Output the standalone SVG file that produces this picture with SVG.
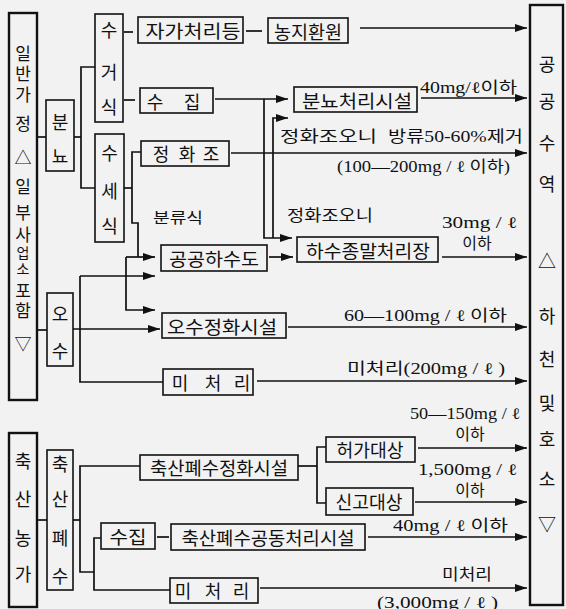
<svg xmlns="http://www.w3.org/2000/svg" width="566" height="609" viewBox="0 0 566 609">
<defs>
<style>
.box{fill:none;stroke:#111;stroke-width:1.6}
.bbox{fill:none;stroke:#111;stroke-width:2.4}
.lbl{font-family:"Noto Sans CJK KR","Noto Sans",sans-serif;font-size:18px;fill:#111;text-anchor:middle;dominant-baseline:central}
.col{font-size:17px}
.ann{font-family:"Liberation Serif","Noto Sans CJK KR",serif;font-size:16px;fill:#111;dominant-baseline:central}
.ln{fill:none;stroke:#111;stroke-width:1.7}
.ar{marker-end:url(#ah)}
</style>
<marker id="ah" viewBox="0 0 12 8" refX="12" refY="4" markerWidth="12" markerHeight="8" orient="auto" markerUnits="userSpaceOnUse">
<path d="M0,0 L12,4 L0,8 z" fill="#111"/>
</marker>
</defs>
<rect x="0" y="0" width="566" height="609" fill="#f2f2f2"/>

<g id="connectors">
<path class="ln" d="M37,137 H46"/>
<path class="ln" d="M74,137 H81"/>
<path class="ln" d="M95,67 H81 V188 H95"/>
<path class="ln" d="M124,32 H133"/>
<path class="ln" d="M246,31 H262"/>
<path class="ln ar" d="M360,28 H527"/>
<path class="ln" d="M124,100 H135"/>
<path class="ln ar" d="M215,99 H288"/>
<path class="ln ar" d="M264,99 V238 H292"/>
<path class="ln ar" d="M273,238 V118 H288"/>
<path class="ln ar" d="M421,98 H527"/>
<path class="ln ar" d="M231,153 H527"/>
<path class="ln" d="M124,188 H132"/>
<path class="ln" d="M141,152 H132 V223 H138 V257"/>
<path class="ln ar" d="M126,257 H155"/>
<path class="ln ar" d="M126,257 V310 H155"/>
<path class="ln ar" d="M80,276 H155"/>
<path class="ln" d="M37,330 H47"/>
<path class="ln ar" d="M73,329 H160"/>
<path class="ln" d="M80,276 V382 H163"/>
<path class="ln ar" d="M269,257 H293"/>
<path class="ln ar" d="M442,257 H527"/>
<path class="ln ar" d="M288,327 H527"/>
<path class="ln ar" d="M257,381 H527"/>
<path class="ln" d="M37,520 H47"/>
<path class="ln" d="M73,520 H80"/>
<path class="ln" d="M140,466 H80 V572 H94"/>
<path class="ln" d="M101,538 H94 V590 H170"/>
<path class="ln" d="M157,537 H169"/>
<path class="ln ar" d="M368,537 H527"/>
<path class="ln" d="M298,466 H317"/>
<path class="ln" d="M326,447 H317 V503 H326"/>
<path class="ln ar" d="M418,448 H527"/>
<path class="ln ar" d="M415,502 H527"/>
<path class="ln ar" d="M260,588 H527"/>
</g>

<g id="n-ilban">
<rect class="bbox" x="9" y="13" width="28" height="387"/>
<text class="lbl col" x="23" y="52"><tspan x="23" y="52">일</tspan><tspan x="23" y="72">반</tspan><tspan x="23" y="93">가</tspan><tspan x="23" y="122">정</tspan><tspan x="23" y="156">△</tspan><tspan x="23" y="185">일</tspan><tspan x="23" y="211">부</tspan><tspan x="23" y="233">사</tspan><tspan x="23" y="252" style="font-size:14px">업</tspan><tspan x="23" y="268" style="font-size:14px">소</tspan><tspan x="23" y="289">포</tspan><tspan x="23" y="309">함</tspan><tspan x="23" y="342">▽</tspan></text>
</g>

<g id="n-bunnyo">
<rect class="box" x="46" y="100" width="28" height="71"/>
<text class="lbl" x="60" y="121">분</text>
<text class="lbl" x="60" y="155">뇨</text>
</g>

<g id="n-sugeosik">
<rect class="box" x="95" y="14" width="28" height="108"/>
<text class="lbl" x="109" y="29">수</text>
<text class="lbl" x="109" y="71">거</text>
<text class="lbl" x="109" y="106">식</text>
</g>

<g id="n-susesik">
<rect class="box" x="95" y="134" width="29" height="108"/>
<text class="lbl" x="109.5" y="152">수</text>
<text class="lbl" x="109.5" y="190">세</text>
<text class="lbl" x="109.5" y="225">식</text>
</g>

<g id="n-osu">
<rect class="box" x="47" y="293" width="26" height="73"/>
<text class="lbl" x="60" y="313">오</text>
<text class="lbl" x="60" y="350">수</text>
</g>

<g id="n-jaga">
<rect class="box" x="138" y="17" width="105" height="26"/>
<text class="lbl" x="193" y="30" textLength="95" lengthAdjust="spacingAndGlyphs">자가처리등</text>
</g>

<g id="n-nongji">
<rect class="box" x="268" y="18" width="80" height="25"/>
<text class="lbl" x="308" y="30.5" textLength="68" lengthAdjust="spacingAndGlyphs">농지환원</text>
</g>

<g id="n-sujip">
<rect class="box" x="140" y="88" width="73" height="25"/>
<text class="lbl" x="155" y="101">수</text>
<text class="lbl" x="192" y="101">집</text>
</g>

<g id="n-bunnyo-plant">
<rect class="box" x="294" y="87" width="123" height="25"/>
<text class="lbl" x="357" y="100" textLength="110" lengthAdjust="spacingAndGlyphs">분뇨처리시설</text>
</g>

<g id="n-jeonghwajo">
<rect class="box" x="141" y="141" width="88" height="25"/>
<text class="lbl" x="161" y="153">정</text>
<text class="lbl" x="187" y="153">화</text>
<text class="lbl" x="211" y="153">조</text>
</g>

<g id="n-gonggong">
<rect class="box" x="161" y="245" width="106" height="26"/>
<text class="lbl" x="214" y="258" textLength="90" lengthAdjust="spacingAndGlyphs">공공하수도</text>
</g>

<g id="n-hasu">
<rect class="box" x="297" y="237" width="141" height="25"/>
<text class="lbl" x="368" y="250" textLength="124" lengthAdjust="spacingAndGlyphs">하수종말처리장</text>
</g>

<g id="n-osujeong">
<rect class="box" x="162" y="313" width="124" height="25"/>
<text class="lbl" x="222" y="326" textLength="110" lengthAdjust="spacingAndGlyphs">오수정화시설</text>
</g>

<g id="n-micheori1">
<rect class="box" x="163" y="369" width="90" height="26"/>
<text class="lbl" x="180" y="382">미</text>
<text class="lbl" x="213" y="382">처</text>
<text class="lbl" x="242" y="382">리</text>
</g>

<g id="n-chuksan-farm">
<rect class="bbox" x="9" y="433" width="28" height="174"/>
<text class="lbl" x="23" y="460">축</text>
<text class="lbl" x="23" y="498">산</text>
<text class="lbl" x="23" y="537">농</text>
<text class="lbl" x="23" y="573">가</text>
</g>

<g id="n-chuksan-waste">
<rect class="box" x="47" y="450" width="26" height="140"/>
<text class="lbl" x="60" y="463">축</text>
<text class="lbl" x="60" y="498">산</text>
<text class="lbl" x="60" y="537">폐</text>
<text class="lbl" x="60" y="575">수</text>
</g>

<g id="n-chuksan-jeonghwa">
<rect class="box" x="140" y="455" width="158" height="25"/>
<text class="lbl" x="219" y="467" textLength="138" lengthAdjust="spacingAndGlyphs">축산폐수정화시설</text>
</g>

<g id="n-heoga">
<rect class="box" x="326" y="437" width="89" height="25"/>
<text class="lbl" x="370" y="449" textLength="67" lengthAdjust="spacingAndGlyphs">허가대상</text>
</g>

<g id="n-singo">
<rect class="box" x="326" y="488" width="87" height="27"/>
<text class="lbl" x="369" y="501" textLength="67" lengthAdjust="spacingAndGlyphs">신고대상</text>
</g>

<g id="n-sujip2">
<rect class="box" x="101" y="523" width="54" height="26"/>
<text class="lbl" x="128" y="536" textLength="37" lengthAdjust="spacingAndGlyphs">수집</text>
</g>

<g id="n-gongdong">
<rect class="box" x="171" y="524" width="194" height="26"/>
<text class="lbl" x="268" y="537" textLength="173" lengthAdjust="spacingAndGlyphs">축산폐수공동처리시설</text>
</g>

<g id="n-micheori2">
<rect class="box" x="170" y="578" width="88" height="25"/>
<text class="lbl" x="183" y="590">미</text>
<text class="lbl" x="213" y="590">처</text>
<text class="lbl" x="241" y="590">리</text>
</g>

<g id="n-public-water">
<rect class="bbox" x="530" y="5" width="33" height="600"/>
<text class="lbl" x="547" y="63">공</text>
<text class="lbl" x="547" y="100">공</text>
<text class="lbl" x="547" y="142">수</text>
<text class="lbl" x="547" y="183">역</text>
<text class="lbl" x="547" y="260">△</text>
<text class="lbl" x="547" y="315">하</text>
<text class="lbl" x="547" y="358">천</text>
<text class="lbl" x="547" y="402">및</text>
<text class="lbl" x="547" y="438">호</text>
<text class="lbl" x="547" y="478">소</text>
<text class="lbl" x="547" y="523">▽</text>
</g>

<g id="annotations">
<text class="ann" x="420" y="87" textLength="97" lengthAdjust="spacingAndGlyphs">40mg/ℓ이하</text>
<text class="ann" x="280" y="136" textLength="97" lengthAdjust="spacingAndGlyphs">정화조오니</text>
<text class="ann" x="388" y="136" textLength="135" lengthAdjust="spacingAndGlyphs">방류50-60%제거</text>
<text class="ann" x="337" y="166" textLength="173" lengthAdjust="spacingAndGlyphs">(100—200mg / ℓ 이하)</text>
<text class="ann" x="153" y="218" style="font-size:15px" textLength="50" lengthAdjust="spacingAndGlyphs">분류식</text>
<text class="ann" x="287" y="215" textLength="86" lengthAdjust="spacingAndGlyphs">정화조오니</text>
<text class="ann" x="442" y="222" textLength="75" lengthAdjust="spacingAndGlyphs">30mg / ℓ</text>
<text class="ann" x="477" y="243" text-anchor="middle">이하</text>
<text class="ann" x="344" y="315" textLength="163" lengthAdjust="spacingAndGlyphs">60—100mg / ℓ 이하</text>
<text class="ann" x="347" y="368" textLength="158" lengthAdjust="spacingAndGlyphs">미처리(200mg / ℓ )</text>
<text class="ann" x="410" y="413" textLength="110" lengthAdjust="spacingAndGlyphs">50—150mg / ℓ</text>
<text class="ann" x="470" y="434" text-anchor="middle">이하</text>
<text class="ann" x="418" y="469" textLength="99" lengthAdjust="spacingAndGlyphs">1,500mg / ℓ</text>
<text class="ann" x="470" y="490" text-anchor="middle">이하</text>
<text class="ann" x="393" y="525" textLength="115" lengthAdjust="spacingAndGlyphs">40mg / ℓ 이하</text>
<text class="ann" x="442" y="574" textLength="50" lengthAdjust="spacingAndGlyphs">미처리</text>
<text class="ann" x="377" y="602" textLength="121" lengthAdjust="spacingAndGlyphs">(3,000mg / ℓ )</text>
</g>
</svg>
